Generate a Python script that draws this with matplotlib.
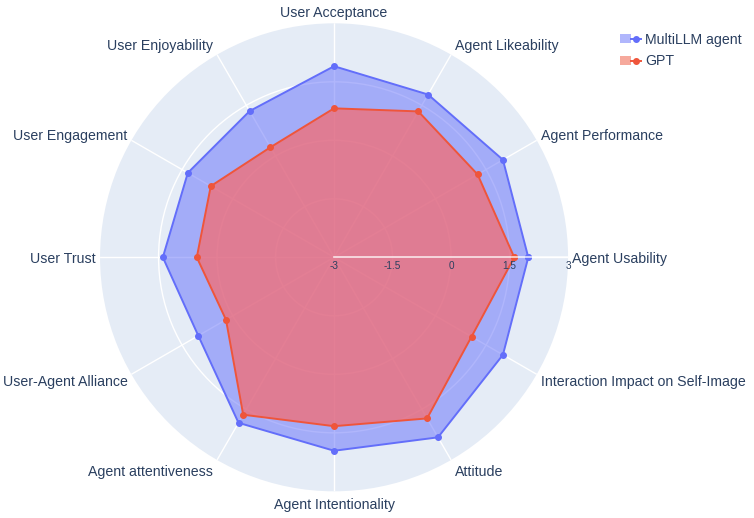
import numpy as np
import matplotlib.pyplot as plt
from matplotlib import transforms
from matplotlib.patches import Patch
from matplotlib.lines import Line2D
from matplotlib.legend_handler import HandlerTuple

plt.rcParams['font.family'] = ['Liberation Sans', 'DejaVu Sans']

categories = ["Agent Usability", "Agent Performance", "Agent Likeability", "User Acceptance",
              "User Enjoyability", "User Engagement", "User Trust", "User-Agent Alliance",
              "Agent attentiveness", "Agent Intentionality", "Attitude",
              "Interaction Impact on Self-Image"]
multillm = [1.98, 2.0, 1.82, 1.9, 1.33, 1.33, 1.39, 1.02, 1.9, 1.96, 2.33, 2.0]
gpt = [1.62, 1.25, 1.32, 0.82, 0.26, 0.65, 0.52, 0.2, 1.66, 1.33, 1.77, 1.07]
rticks = [-3, -1.5, 0, 1.5, 3]

text_col = '#2a3f5f'
blue = '#636EFA'
red = '#EF553B'
fills = {'MultiLLM agent': (blue, 0.5), 'GPT': ('#FA6869', 0.7)}

fig = plt.figure(figsize=(7.54, 5.18), dpi=100)
ax = fig.add_axes([0.1327, 0.0515, 0.6207, 0.9035], projection='polar')
ax.set_facecolor('#E5ECF6')
ax.spines['polar'].set_visible(False)

theta = np.deg2rad(np.arange(len(categories)) * 360 / len(categories))
th_closed = np.append(theta, theta[0])

for vals, col, name in [(multillm, blue, 'MultiLLM agent'), (gpt, red, 'GPT')]:
    v = np.append(vals, vals[0])
    fc, fa = fills[name]
    ax.fill(th_closed, v, color=fc, alpha=fa, lw=0, zorder=3)
    ax.plot(th_closed, v, color=col, lw=1.4, marker='o', ms=4, zorder=4, label=name)

ax.set_ylim(-3, 3)
ax.set_yticks(rticks[1:-1])
ax.set_yticklabels([])
ax.set_xticks(theta)
ax.set_xticklabels([])
ax.grid(True, color='white', lw=1)
ax.set_axisbelow(True)

# radial axis line
ax.plot([0, 0], [-3, 3], color='white', lw=1.2, zorder=5, alpha=0.8)

# radial tick labels
for t in rticks:
    tr = transforms.offset_copy(ax.transData, fig=fig, x=0, y=-9, units='dots')
    ax.text(0, t, str(t), transform=tr, ha='center', va='center',
            fontsize=7.2, color=text_col, zorder=6)

# angular labels
for th, lab in zip(theta, categories):
    c, s = np.cos(th), np.sin(th)
    if abs(c) < 0.01:
        ha = 'center'
        dx = 0
    elif c > 0:
        ha = 'left'
        dx = 4
    else:
        ha = 'right'
        dx = -4
    dy = -(6 - 12 * s)
    tr = transforms.offset_copy(ax.transData, fig=fig, x=dx, y=dy, units='dots')
    ax.text(th, 3, lab, transform=tr, ha=ha, va='baseline', fontsize=10.2,
            color=text_col, clip_on=False)

h1 = (Patch(facecolor=blue, alpha=0.5), Line2D([], [], color=blue, lw=1.4, marker='o', ms=4))
h2 = (Patch(facecolor=red, alpha=0.5), Line2D([], [], color=red, lw=1.4, marker='o', ms=4))
fig.legend([h1, h2], ['MultiLLM agent', 'GPT'], handler_map={tuple: HandlerTuple(ndivide=None, pad=0)},
           loc='upper left', bbox_to_anchor=(0.815, 0.948), frameon=False, fontsize=10.2,
           labelcolor=text_col, handlelength=1.5, handleheight=0.6, handletextpad=0.25,
           labelspacing=0.55, borderaxespad=0)

fig.savefig('out.png', dpi=100)
